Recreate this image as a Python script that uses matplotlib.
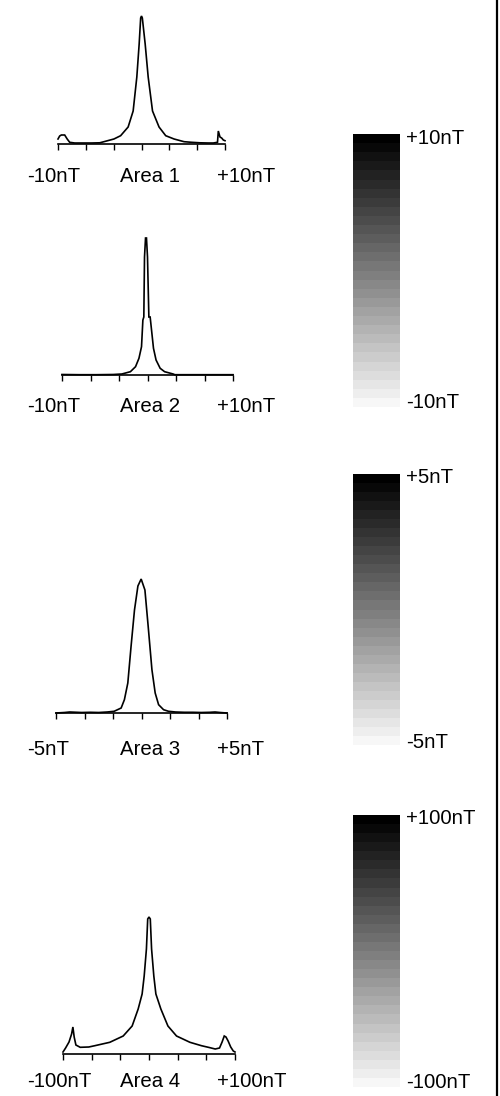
import numpy as np
import matplotlib
matplotlib.use("Agg")
import matplotlib.pyplot as plt
from matplotlib.colors import ListedColormap
from matplotlib.lines import Line2D

plt.rcParams['font.family'] = ['Liberation Sans', 'DejaVu Sans']

# ---------------- data ----------------
area_names = ["Area 1", "Area 2", "Area 3", "Area 4"]
area_ranges = [10, 10, 5, 100]          # +/- nT
left_labels = ["-10nT", "-10nT", "-5nT", "-100nT"]
right_labels = ["+10nT", "+10nT", "+5nT", "+100nT"]

x1 = [-10, -9.8, -9.6, -9.2, -8.9, -8.6, -8, -7, -6, -5, -4.5, -3.3, -2.5, -1.6, -1.0,
      -0.56, -0.28, -0.1, 0, 0.1, 0.44, 0.8, 1.32, 2.1, 2.9, 3.9, 5.1, 6, 7, 8, 8.6,
      9.1, 9.2, 9.4, 9.6, 9.8, 10]
y1 = [5, 8, 9, 9, 5, 1.7, 1, 1, 1, 1.2, 2.3, 5, 8.3, 17, 33,
      67, 100, 126, 128, 126, 100, 67, 33, 17, 8.3, 5, 2.3, 1.7, 1.2, 1, 1,
      1.7, 13, 7, 6, 4, 3.3]

x2 = [-10, -8, -6, -4, -3, -2, -1.4, -1.0, -0.7, -0.54, -0.43, -0.35, -0.23, -0.12, 0,
      0.16, 0.31, 0.7, 1.0, 1.48, 2.0, 3.0, 3.2, 5, 7, 10]
y2 = [0.5, 0.3, 0.3, 0.5, 1, 3.3, 8.3, 16.7, 28.3, 55, 58, 118, 137, 137, 118,
      58, 58, 26.7, 15, 6.7, 3.3, 1, 0.3, 0.3, 0.3, 0.3]

x3 = [-5, -4.5, -4.2, -3.5, -3, -2.5, -2, -1.6, -1.19, -1.0, -0.8, -0.61, -0.41, -0.21,
      -0.02, 0.2, 0.39, 0.61, 0.8, 1.0, 1.29, 1.58, 1.99, 2.5, 3, 3.5, 4, 4.3, 4.6, 5]
y3 = [0, 0.5, 1, 0.5, 0.7, 0.5, 1, 1.7, 5, 13.3, 30, 66.7, 103, 127,
      134, 123, 86.7, 43.3, 20, 8.3, 3.3, 1.7, 1, 0.7, 0.7, 0.5, 0.7, 1, 0.5, 0]

x4 = [-100, -97, -93, -90, -88.5, -87, -85, -80, -70, -63, -45.6, -30, -19.6, -12.6, -8,
      -5.6, -3, -1.5, 0, 1.5, 3, 5.6, 8, 13.8, 22, 32, 47.6, 61, 70, 77, 82, 85, 87.5,
      89.5, 92, 95, 98, 100]
y4 = [2, 6, 12, 20, 27, 17, 9, 6.7, 7, 8.3, 11.7, 18, 28, 45, 60,
      78, 105, 135, 137, 135, 105, 78, 60, 45, 28, 18, 11.7, 8.3, 6.5, 5, 6, 12, 18,
      17, 13, 7, 3, 2]

xs = [x1, x2, x3, x4]
ys = [y1, y2, y3, y4]

colorbar_ranges = [10, 5, 100]
colorbar_top = ["+10nT", "+5nT", "+100nT"]
colorbar_bottom = ["-10nT", "-5nT", "-100nT"]

# ---------------- layout (pixels) ----------------
W, H = 500, 1096
fig = plt.figure(figsize=(W / 100, H / 100), dpi=100)
fig.patch.set_facecolor("white")

def fx(px):
    return px / W

def fy(py):
    return 1 - py / H

panel_px = [  # left, right, baseline
    (58, 225, 144),
    (62, 233, 375),
    (56, 227, 713),
    (63, 235, 1054),
]
label_base = [182, 412, 755, 1087]
YMAX = 140
FS = 14.7

for i in range(4):
    l, r, b = panel_px[i]
    ax = fig.add_axes([fx(l), fy(b), (r - l) / W, YMAX / H])
    R = area_ranges[i]
    ax.plot(xs[i], ys[i], color="black", lw=1.2, clip_on=False, solid_joinstyle="miter")
    ax.set_xlim(-R, R)
    ax.set_ylim(0, YMAX)
    for s in ["top", "right", "left"]:
        ax.spines[s].set_visible(False)
    ax.spines["bottom"].set_linewidth(1.2)
    ax.set_yticks([])
    ax.set_xticks(np.linspace(-R, R, 7))
    ax.tick_params(axis="x", direction="out", length=4, width=1.0,
                   labelbottom=False, color="black")
    ax.patch.set_alpha(0)
    yb = fy(label_base[i])
    fig.text(fx(27), yb, left_labels[i], fontsize=FS, ha="left", va="baseline")
    fig.text(fx(120), yb, area_names[i], fontsize=FS, ha="left", va="baseline")
    fig.text(fx(217), yb, right_labels[i], fontsize=FS, ha="left", va="baseline")

# ---------------- colour bars ----------------
nlev = 30
greys = [(g, g, g) for g in np.linspace(0.97, 0.0, nlev)]
cmap = ListedColormap(greys)
cb_px = [(134, 407), (474, 745), (815, 1087)]
cb_lab = [(143.5, 408.5), (483.5, 748.5), (824, 1088.5)]
for j in range(3):
    t, bt = cb_px[j]
    cax = fig.add_axes([fx(353), fy(bt), (400 - 353) / W, (bt - t) / H])
    R = colorbar_ranges[j]
    grad = np.linspace(-R, R, nlev).reshape(-1, 1)
    cax.imshow(grad, cmap=cmap, aspect="auto", origin="lower",
               extent=[0, 1, -R, R], vmin=-R, vmax=R, interpolation="nearest")
    cax.axis("off")
    fig.text(fx(406), fy(cb_lab[j][0]), colorbar_top[j], fontsize=FS, ha="left", va="baseline")
    fig.text(fx(406), fy(cb_lab[j][1]), colorbar_bottom[j], fontsize=FS, ha="left", va="baseline")

# right border line
fig.add_artist(Line2D([fx(496.5), fx(496.5)], [0, 1], transform=fig.transFigure,
                      color="black", lw=1.6))

fig.savefig("out.png", dpi=100, facecolor="white")
